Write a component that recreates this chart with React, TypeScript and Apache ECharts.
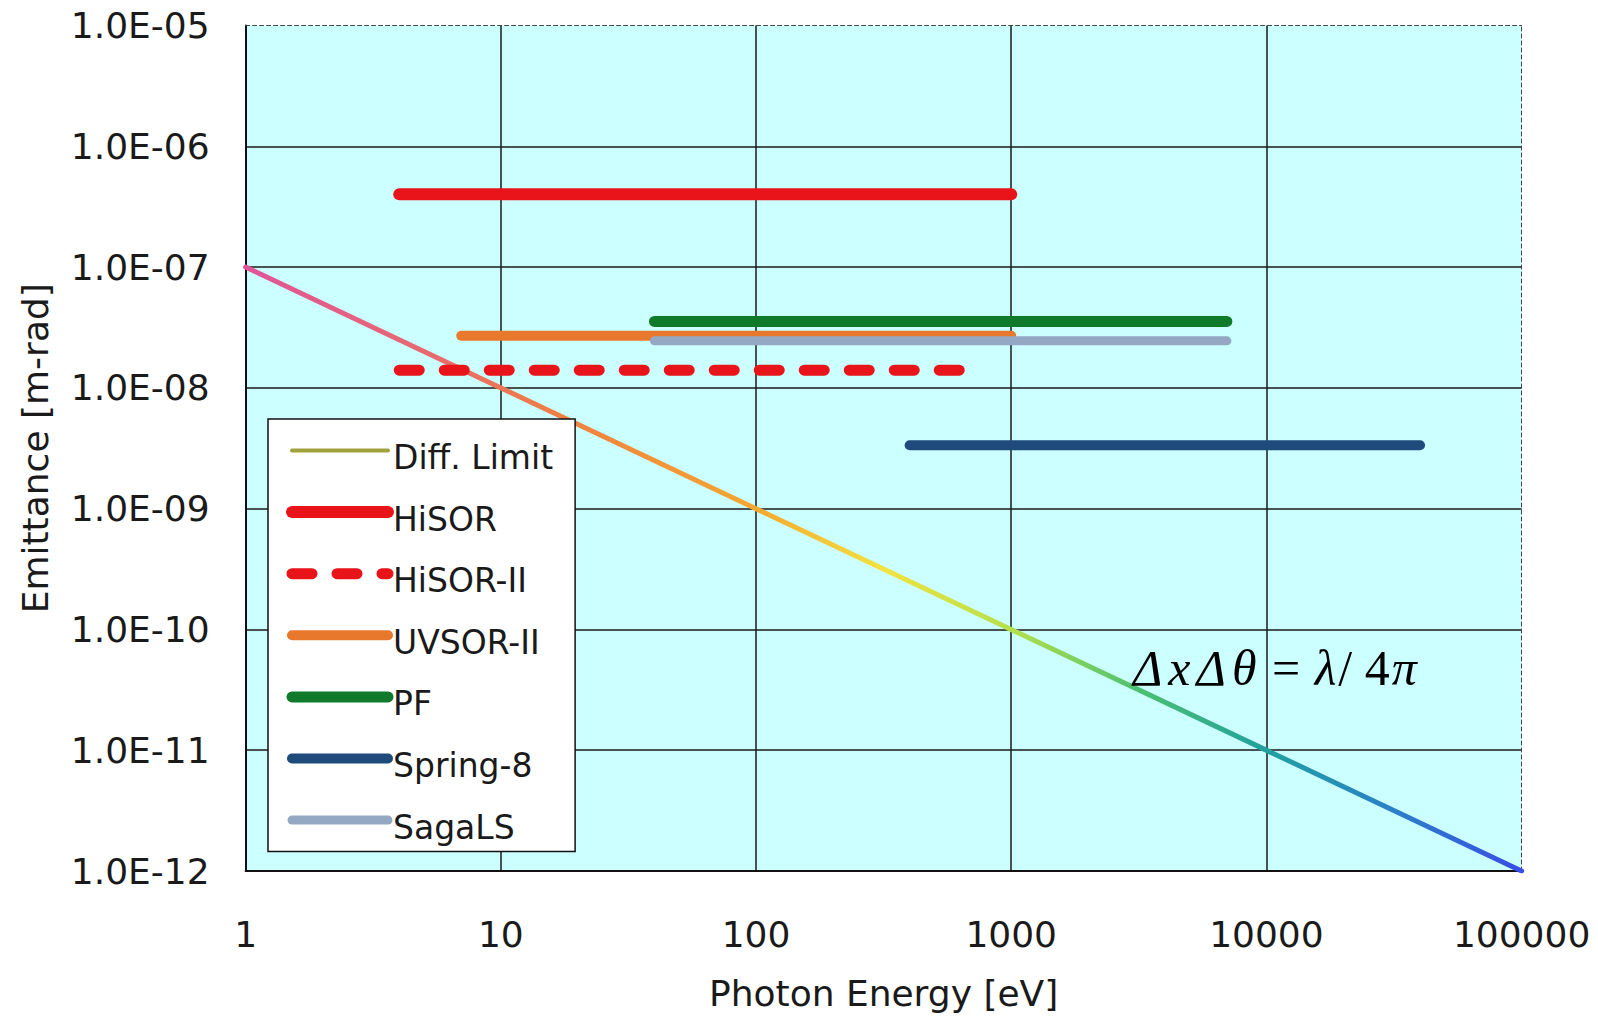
import React, { useEffect, useRef } from 'react';
import * as echarts from 'echarts';

// ---- data ----
const xTickLabels = ['1', '10', '100', '1000', '10000', '100000'];
const yTickLabels = ['1.0E-12', '1.0E-11', '1.0E-10', '1.0E-09', '1.0E-08', '1.0E-07', '1.0E-06', '1.0E-05'];

const diffLimitEnergy = [1, 100000];
const diffLimitEmittance = [1e-7, 1e-12];

const facilityNames = ['HiSOR', 'HiSOR-II', 'UVSOR-II', 'PF', 'Spring-8', 'SagaLS'];
const energyStart = [4, 4, 7, 40, 400, 40];
const energyEnd = [1000, 700, 1000, 7000, 40000, 7000];
const facilityEmittance = [4.0e-7, 1.4e-8, 2.7e-8, 3.55e-8, 3.35e-9, 2.45e-8];

// ---- styles ----
const facilityColors = ['#e8141a', '#e8141a', '#e8782c', '#0f7a2a', '#1f4a7c', '#94a8c4'];
const facilityWidths = [12, 11, 10, 11, 10, 9];
const facilityDash: any[] = ['solid', [20, 25], 'solid', 'solid', 'solid', 'solid'];

const FONT = 'DejaVu Sans';
const SERIF = 'Liberation Serif';

export default function App() {
  const ref = useRef<HTMLDivElement>(null);

  useEffect(() => {
    if (!ref.current) return;
    const chart = echarts.init(ref.current, undefined, { renderer: 'svg' });

    const xLabel = (v: number) => xTickLabels[Math.round(Math.log10(v))] ?? '';
    const yLabel = (v: number) => yTickLabels[Math.round(Math.log10(v)) + 12] ?? '';

    const diffSeries = {
      type: 'line',
      name: 'Diff. Limit',
      data: diffLimitEnergy.map((e, i) => [e, diffLimitEmittance[i]]),
      symbol: 'none',
      z: 2,
      itemStyle: { color: '#a0a23c' },
      lineStyle: {
        width: 5,
        cap: 'round',
        color: new echarts.graphic.LinearGradient(0, 0, 1, 0, [
          { offset: 0, color: '#e0559a' },
          { offset: 0.15, color: '#e86a6c' },
          { offset: 0.25, color: '#f08040' },
          { offset: 0.4, color: '#f4a830' },
          { offset: 0.5, color: '#f2e23e' },
          { offset: 0.6, color: '#b4e04c' },
          { offset: 0.7, color: '#4cc070' },
          { offset: 0.8, color: '#20a0a0' },
          { offset: 0.9, color: '#2a80c8' },
          { offset: 1, color: '#3a4ce8' },
        ]),
      },
    };

    const facilitySeries = facilityNames.map((name, i) => ({
      type: 'line',
      name,
      data: [
        [energyStart[i], facilityEmittance[i]],
        [energyEnd[i], facilityEmittance[i]],
      ],
      symbol: 'none',
      z: 3,
      itemStyle: { color: facilityColors[i] },
      lineStyle: {
        color: facilityColors[i],
        width: facilityWidths[i],
        type: facilityDash[i],
        cap: 'round',
      },
    }));

    const legendData = [
      { name: 'Diff. Limit', lineStyle: { color: '#a0a23c', width: 4 } },
      ...facilityNames.map((name, i) => ({ name, lineStyle: { width: facilityWidths[i] } })),
    ];

    const hiddenAxisCommon = {
      axisLabel: { show: false },
      axisTick: { show: false },
      splitLine: { show: false },
      axisLine: { show: true, lineStyle: { color: '#444', width: 1, type: [4, 3] } },
    };

    const pad = [0, 3];

    chart.setOption({
      animation: false,
      backgroundColor: '#ffffff',
      grid: {
        left: 245.6,
        right: 76.4,
        top: 25.5,
        bottom: 144.6,
        show: true,
        backgroundColor: '#ccffff',
        borderWidth: 0,
      },
      xAxis: [
        {
          type: 'log',
          logBase: 10,
          min: 1,
          max: 100000,
          interval: 1,
          position: 'bottom',
          axisLine: { show: true, onZero: false, lineStyle: { color: '#111', width: 2 } },
          axisTick: { show: false },
          splitLine: {
            show: true,
            showMinLine: false,
            showMaxLine: false,
            lineStyle: { color: '#1a1a1a', width: 1.5 },
          },
          axisLabel: {
            formatter: xLabel,
            fontSize: 36,
            fontFamily: FONT,
            color: '#1a1a1a',
            margin: 45,
          },
          name: 'Photon Energy [eV]',
          nameLocation: 'middle',
          nameGap: 104,
          nameTextStyle: { fontSize: 36, fontFamily: FONT, color: '#1a1a1a' },
        },
        {
          type: 'log',
          logBase: 10,
          min: 1,
          max: 100000,
          position: 'top',
          ...hiddenAxisCommon,
        },
      ],
      yAxis: [
        {
          type: 'log',
          logBase: 10,
          min: 1e-12,
          max: 1e-5,
          interval: 1,
          position: 'left',
          axisLine: { show: true, onZero: false, lineStyle: { color: '#111', width: 2 } },
          axisTick: { show: false },
          splitLine: {
            show: true,
            showMinLine: false,
            showMaxLine: false,
            lineStyle: { color: '#1a1a1a', width: 1.5 },
          },
          axisLabel: {
            formatter: yLabel,
            fontSize: 36,
            fontFamily: FONT,
            color: '#1a1a1a',
            margin: 36,
          },
          name: 'Emittance [m-rad]',
          nameLocation: 'middle',
          nameGap: 192,
          nameTextStyle: { fontSize: 36, fontFamily: FONT, color: '#1a1a1a' },
        },
        {
          type: 'log',
          logBase: 10,
          min: 1e-12,
          max: 1e-5,
          position: 'right',
          ...hiddenAxisCommon,
        },
      ],
      legend: {
        orient: 'vertical',
        left: 268,
        top: 419,
        padding: [8, 22, 8, 18],
        itemGap: 14.6,
        itemWidth: 96,
        itemHeight: 40,
        backgroundColor: '#ffffff',
        borderColor: '#111',
        borderWidth: 1.5,
        borderRadius: 0,
        selectedMode: false,
        itemStyle: { opacity: 0 },
        formatter: '{t|{name}}',
        textStyle: {
          fontSize: 33,
          fontFamily: FONT,
          color: '#1a1a1a',
          rich: {
            t: {
              fontSize: 33,
              fontFamily: FONT,
              color: '#1a1a1a',
              lineHeight: 26,
              padding: [14, 0, 0, 0],
            },
          },
        },
        data: legendData,
      },
      graphic: [
        {
          type: 'text',
          z: 10,
          style: {
            x: 1130,
            y: 668,
            verticalAlign: 'middle',
            text: '{i|Δ}{i|x}{i|Δ}{i|θ}{u| = }{j|λ}{u|/ 4}{j|π}',
            rich: {
              i: { fontStyle: 'italic', fontFamily: SERIF, fontSize: 50, fill: '#000', padding: pad },
              j: { fontStyle: 'italic', fontFamily: SERIF, fontSize: 50, fill: '#000', padding: [0, 2] },
              u: { fontFamily: SERIF, fontSize: 50, fill: '#000' },
            },
          },
        },
      ],
      series: [diffSeries, ...facilitySeries],
    });

    return () => chart.dispose();
  }, []);

  return (
    <div
      ref={ref}
      style={{ position: 'fixed', left: 0, top: 0, width: 1598, height: 1016 }}
    />
  );
}
